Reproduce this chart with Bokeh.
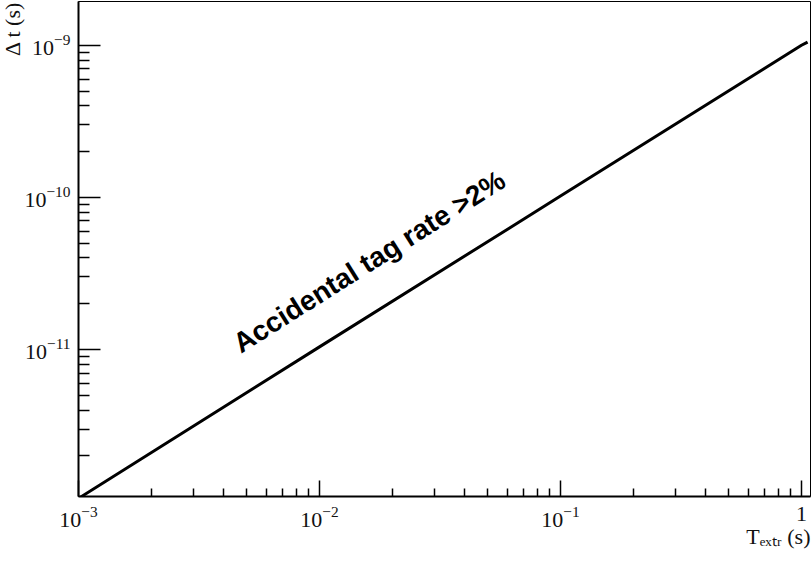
import math
from bokeh.plotting import figure
from bokeh.models import FixedTicker, LogTickFormatter, Label, Title
from bokeh.embed import file_html
from bokeh.resources import INLINE

# ---- data ----
t_extr = [1e-3, 1e-2, 1e-1, 1.0, 1.06]                      # T_extr (s)
delta_t = [1.05e-12, 1.04e-11, 1.02e-10, 1.0e-9, 1.05e-9]    # Δt (s)

x_ticks = [1e-3, 1e-2, 1e-1, 1.0]
y_ticks = [1e-11, 1e-10, 1e-9]

annotation_text = "Accidental tag rate >2%"
x_title = "T\u2091\u2093\u209c\u1d63 (s)"
y_title = "\u0394 t (s)"

x_min, x_max = 1e-3, 1.09
y_min, y_max = 1.08e-12, 1.94e-9

W, H = 811, 565
p = figure(width=W, height=H, x_axis_type="log", y_axis_type="log",
           x_range=(x_min, x_max), y_range=(y_min, y_max),
           output_backend="svg", toolbar_location=None,
           min_border_left=78, min_border_right=1, min_border_top=1,
           min_border_bottom=69)
p.background_fill_color = "white"
p.border_fill_color = "white"
p.outline_line_color = "black"
p.outline_line_width = 1
p.xgrid.visible = False
p.ygrid.visible = False

# minor tick positions (2..9 in every decade)
x_minor = [m * 10.0 ** e for e in range(-3, 0) for m in range(2, 10)]
y_minor = [m * 10.0 ** e for e in range(-12, -9) for m in range(2, 10)]

p.xaxis.ticker = FixedTicker(ticks=x_ticks, minor_ticks=x_minor)
p.xaxis.formatter = LogTickFormatter(min_exponent=1)
p.yaxis.ticker = FixedTicker(ticks=y_ticks, minor_ticks=y_minor)
p.yaxis.formatter = LogTickFormatter(min_exponent=1)

for ax in (p.xaxis, p.yaxis):
    ax.axis_line_width = 2
    ax.axis_line_color = "black"
    ax.major_tick_line_color = "black"
    ax.minor_tick_line_color = "black"
    ax.major_tick_line_width = 1.5
    ax.minor_tick_line_width = 1.5
    ax.major_tick_out = 0
    ax.minor_tick_out = 0
    ax.major_label_text_font = "Liberation Serif"
    ax.major_label_text_font_size = "22px"
    ax.major_label_text_color = "#111111"

p.xaxis.major_tick_in = 16
p.xaxis.minor_tick_in = 8
p.xaxis.major_label_standoff = 10
p.yaxis.major_tick_in = 22
p.yaxis.minor_tick_in = 11
p.yaxis.major_label_standoff = 8

p.line(t_extr, delta_t, line_color="black", line_width=3)

# annotation along the line
p.add_layout(Label(x=4.5e-3, y=1.06e-11, text=annotation_text,
                   angle=math.atan(152 / 241), angle_units="rad",
                   text_font="Liberation Sans", text_font_style="bold",
                   text_font_size="28px", text_color="black",
                   text_baseline="alphabetic", text_align="left"))

# axis titles
p.add_layout(Title(text=x_title, align="right", text_font="Liberation Serif",
                   text_font_size="22px", text_font_style="normal",
                   text_color="#111111", standoff=-16, offset=0), "below")
p.add_layout(Title(text=y_title, align="right", text_font="Liberation Serif",
                   text_font_size="22px", text_font_style="normal",
                   text_color="#111111", standoff=-6, offset=0), "left")

open("out.html", "w").write(file_html(p, INLINE))
